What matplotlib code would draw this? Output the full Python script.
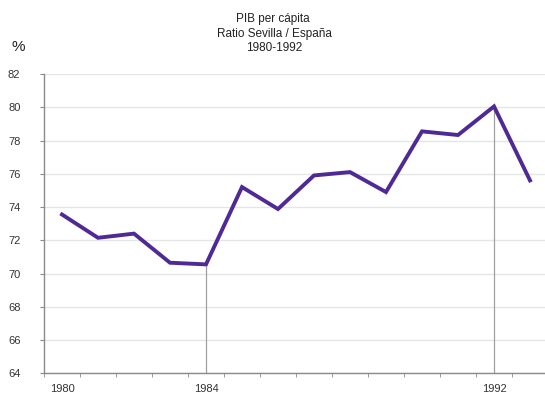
import matplotlib
matplotlib.use("Agg")
import matplotlib.pyplot as plt

years = list(range(1980, 1994))
ratio = [73.55, 72.15, 72.4, 70.65, 70.55, 75.2, 73.88, 75.9, 76.1, 74.9, 78.55, 78.33, 80.05, 75.6]
xtick_years = [1980, 1984, 1992]
yticks = list(range(64, 83, 2))
marked_years = [1984, 1992]

plt.rcParams['font.family'] = ['Liberation Sans', 'DejaVu Sans']

fig = plt.figure(figsize=(5.45, 3.95), dpi=100)
ax = fig.add_axes([44 / 545, (395 - 373.3) / 395, 504 / 545, (373.3 - 74) / 395])

xs = list(range(len(years)))
for yv in yticks:
    ax.axhline(yv, color='#e3e6e6', lw=1.0, zorder=0)

for my in marked_years:
    i = years.index(my)
    ax.plot([i, i], [64, ratio[i]], color='#a0a0a0', lw=0.9, zorder=1)

ax.plot(xs, ratio, color='#4f2a96', lw=2.8, solid_joinstyle='miter', zorder=3)

ax.set_xlim(-0.5, len(years) - 0.5)
ax.set_ylim(64, 82)
ax.set_yticks(yticks)
ax.set_yticklabels([str(v) for v in yticks], fontsize=8, color='#333333')
ax.set_xticks([years.index(y) for y in xtick_years])
ax.set_xticklabels([str(y) for y in xtick_years], fontsize=8, color='#333333')
ax.set_xticks([i - 0.5 for i in range(len(years) + 1)], minor=True)
ax.tick_params(axis='x', which='major', length=0, pad=8)
ax.tick_params(axis='x', which='minor', length=3, color='#8a8a8a', direction='out')
ax.tick_params(axis='y', length=3, color='#8a8a8a', pad=14)

for s in ['top', 'right']:
    ax.spines[s].set_visible(False)
for s in ['left', 'bottom']:
    ax.spines[s].set_color('#8a8a8a')
    ax.spines[s].set_linewidth(1.0)

fig.text(273 / 545, 1 - 19 / 395, 'PIB per cápita', ha='center', va='center', fontsize=8.5, color='#222222')
fig.text(274 / 545, 1 - 34 / 395, 'Ratio Sevilla / España', ha='center', va='center', fontsize=8.5, color='#222222')
fig.text(274 / 545, 1 - 48 / 395, '1980-1992', ha='center', va='center', fontsize=8.5, color='#222222')
fig.text(18 / 545, 1 - 47 / 395, '%', ha='center', va='center', fontsize=11, color='#222222')

fig.savefig('out.png', dpi=100)
